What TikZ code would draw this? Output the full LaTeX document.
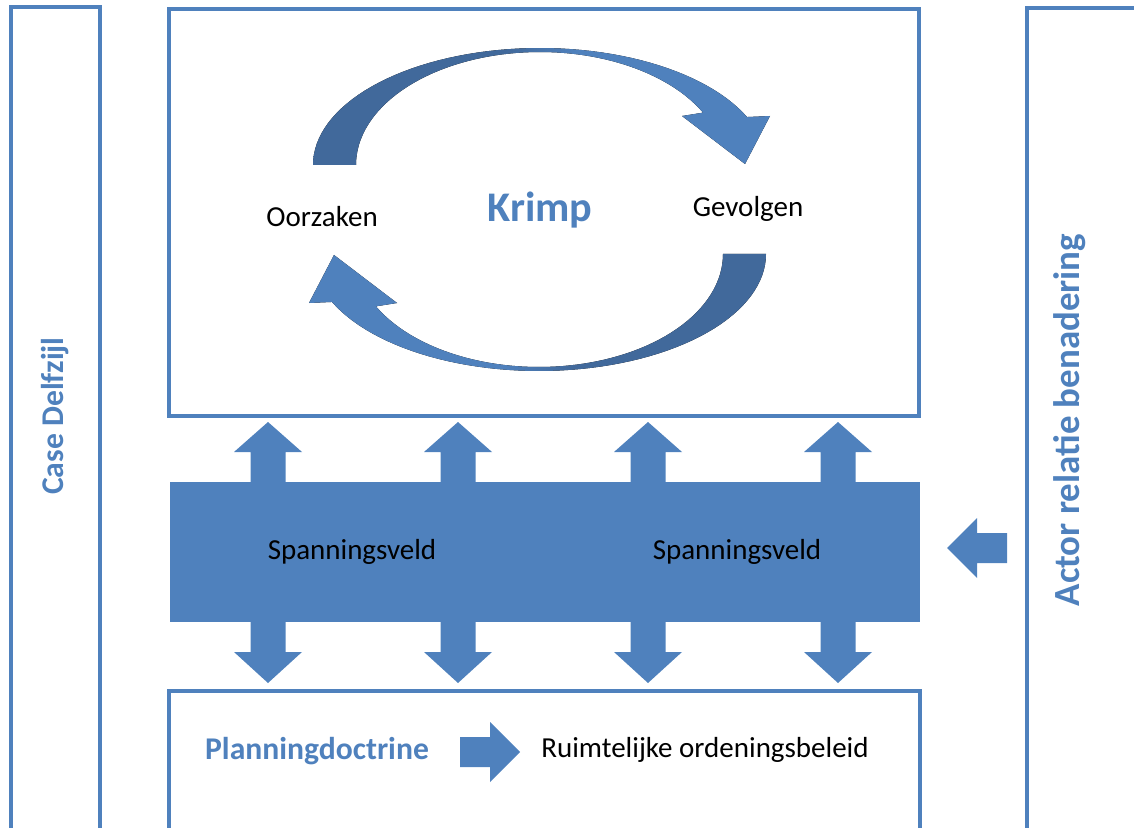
\documentclass[tikz,border=0pt]{standalone}
\usepackage{fontspec}
\setmainfont{Carlito}
\definecolor{accentblue}{HTML}{4F81BD}
\definecolor{accentdark}{HTML}{41699B}
\pgfdeclarehorizontalshading{twotone}{100bp}{color(0bp)=(accentdark); color(46bp)=(accentdark); color(54bp)=(accentblue); color(100bp)=(accentblue)}

\begin{document}
\begin{tikzpicture}[
    x=0.3793pt, y=-0.3793pt,
    frame/.style={draw=accentblue, line width=1.5pt, fill=none},
    plain/.style={text=black, font=\fontsize{11}{13}\selectfont, inner sep=0pt},
    title/.style={text=accentblue, font=\bfseries\fontsize{12}{14}\selectfont, inner sep=0pt},
    bigtitle/.style={text=accentblue, font=\bfseries\fontsize{16}{19}\selectfont, inner sep=0pt},
    blockarrow/.style={fill=accentblue, draw=none},
    cyclearrow/.style={shading=twotone, draw=none}
]
\useasboundingbox (0,0) rectangle (1134,827);
\clip (0,0) rectangle (1134,827);

% side frames
\draw[frame] (11,7) rectangle (100,900);
\draw[frame] (1027,8) rectangle (1200,900);
\node (Case00) [title, rotate=90] at (55,416) {Case Delfzijl};
\node (Actor00) [title, rotate=90, font=\bfseries\fontsize{14}{17}\selectfont] at (1070,420) {Actor relatie benadering};

% krimp cycle
\draw[frame] (169,9) rectangle (919,416);
\fill[cyclearrow]
    plot[domain=180:24.2, samples=60] ({540+227*cos(\x)}, {165-117*sin(\x)})
    -- (770,116) -- (745,164) -- (682,116)
    -- plot[domain=27.6:180, samples=60] ({540+184*cos(\x)}, {165-113*sin(\x)})
    -- cycle;
\fill[cyclearrow, shading angle=180]
    plot[domain=180:24.2, samples=60] ({539-227*cos(\x)}, {254+117*sin(\x)})
    -- (309,303) -- (334,255) -- (397,303)
    -- plot[domain=27.6:180, samples=60] ({539-184*cos(\x)}, {254+113*sin(\x)})
    -- cycle;
\node (K01) [bigtitle] at (540,210) {Krimp};
\node (K02) [plain] at (322,217) {Oorzaken};
\node (K03) [plain] at (748,209) {Gevolgen};

% spanningsveld
\foreach \cx in {268,458,648,838} {
    \fill[blockarrow] (\cx,422) -- (\cx+34,452) -- (\cx+17.5,452) -- (\cx+17.5,652)
        -- (\cx+34,652) -- (\cx,683) -- (\cx-34,652) -- (\cx-17.5,652)
        -- (\cx-17.5,452) -- (\cx-34,452) -- cycle;
}
\fill[blockarrow] (170,482) rectangle (920,622);
\node (S01) [plain] at (352,552) {Spanningsveld};
\node (S02) [plain] at (737,552) {Spanningsveld};
\fill[blockarrow] (947,548) -- (977,518) -- (977,533) -- (1007,533)
    -- (1007,563) -- (977,563) -- (977,578) -- cycle;

% planning
\draw[frame] (169,691) rectangle (920,900);
\node (P01) [title] at (317,751) {Planningdoctrine};
\fill[blockarrow] (460,737) -- (490,737) -- (490,722) -- (520,752)
    -- (490,782) -- (490,767) -- (460,767) -- cycle;
\node (P02) [plain] at (705,750) {Ruimtelijke ordeningsbeleid};

\end{tikzpicture}
\end{document}
